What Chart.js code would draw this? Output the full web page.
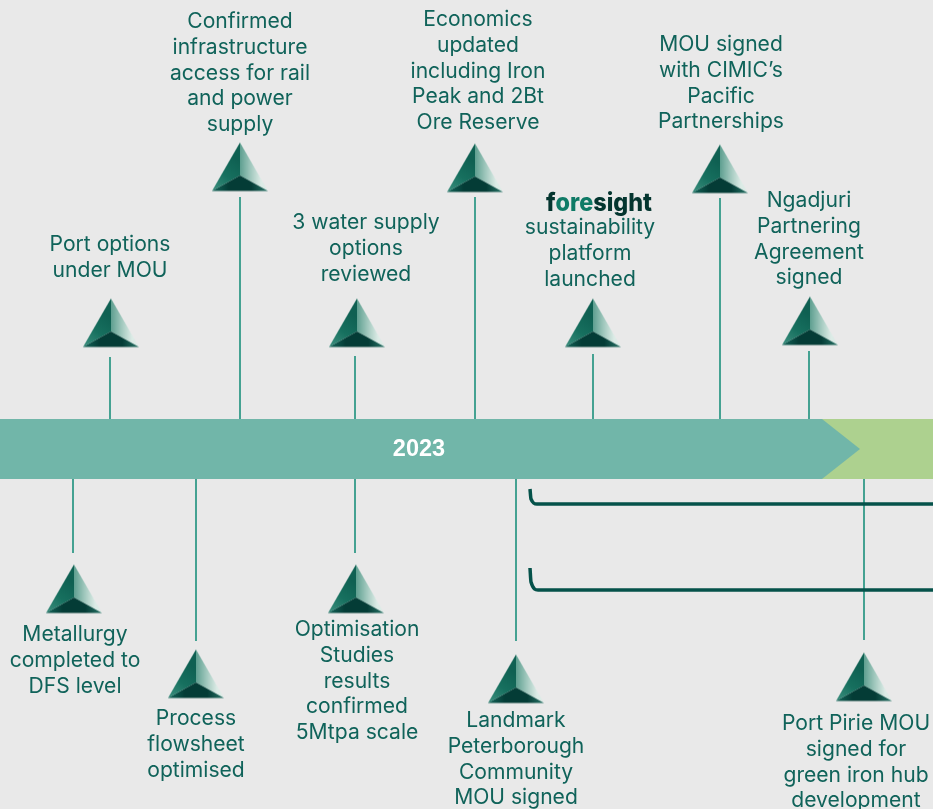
<!DOCTYPE html>
<html><head><meta charset="utf-8">
<style>html,body{margin:0;padding:0;background:#e9e9e9;overflow:hidden}#c{display:block}</style>
<script src="https://cdn.jsdelivr.net/npm/chart.js@4"></script>
</head><body><canvas id="c" width="933" height="809"></canvas>
<script>
// Milestones above the timeline
const topLabels = [
  ["Port options","under MOU"],
  ["Confirmed","infrastructure","access for rail","and power","supply"],
  ["3 water supply","options","reviewed"],
  ["Economics","updated","including Iron","Peak and 2Bt","Ore Reserve"],
  ["sustainability","platform","launched"],
  ["MOU signed","with CIMIC\u2019s","Pacific","Partnerships"],
  ["Ngadjuri","Partnering","Agreement","signed"]
];
const topPos   = [110,240,355,475,593,720,809];
const topStemEnd = [357,197,356,197,354,198,351];
const topMarkX = [111,240,357,475,593,720,810];
const topMarkY = [323,167,323,168,323,169,321];
const topTextX = [110,240,366,478,590,721,809];
const topTextY = [245,22,223,20,228,45,201];
// Milestones below the timeline
const bottomLabels = [
  ["Metallurgy","completed to","DFS level"],
  ["Process","flowsheet","optimised"],
  ["Optimisation","Studies","results","confirmed","5Mtpa scale"],
  ["Landmark","Peterborough","Community","MOU signed"],
  ["Port Pirie MOU","signed for","green iron hub","development"]
];
const bottomPos = [73,196,355,516,864];
const bottomStemEnd = [553,641,553,641,640];
const bottomMarkX = [74,196,356,516,864];
const bottomMarkY = [589,674,589,679,677];
const bottomTextX = [75,196,357,516,856];
const bottomTextY = [635,719,630,721,724];
// Timeline band
const bandName = "2023";
const bandTop = 419, bandBottom = 479, bandMid = 449;
const arrowStart = 822, arrowTip = 860, bandEnd = 933;
// Brackets below the band
const bracket1X = [530,531,537,933], bracket1Y = [489,499,504,504];
const bracket2X = [530,531,538,933], bracket2Y = [568,582,590,590];
const logoParts = ["f","ore","sight"];

const TEXT="#10635a", STEM="#0f8a76", DARK="#05524a";
const xy=(xs,ys)=>xs.map((x,i)=>({x,y:ys[i]}));

function markerImage(){
  const W=58,H=51,c=document.createElement('canvas');c.width=W;c.height=H;
  const g=c.getContext('2d');
  const A=[W/2,1],L=[1,H-1.5],R=[W-1,H-1.5],M=[W/2,34];
  const tri=(a,b,d,f)=>{g.beginPath();g.moveTo(...a);g.lineTo(...b);g.lineTo(...d);g.closePath();g.fillStyle=f;g.fill();};
  let f=g.createLinearGradient(4,H,W/2,20);f.addColorStop(0,"#3c8f7e");f.addColorStop(.5,"#17705f");f.addColorStop(1,"#0f6052");
  tri(A,L,M,f);
  f=g.createLinearGradient(W/2,0,W-8,0);f.addColorStop(0,"#5e9f90");f.addColorStop(.55,"#a6cbc1");f.addColorStop(1,"#dcebe6");
  tri(A,R,M,f);
  f=g.createLinearGradient(1,H,W-1,H);f.addColorStop(0,"#15665a");f.addColorStop(.3,"#043c36");f.addColorStop(.7,"#043c36");f.addColorStop(1,"#2a7568");
  tri(L,R,M,f);
  return c;
}
const marker=markerImage();

const stems=[];
topPos.forEach((x,i)=>stems.push({type:'line',data:[{x,y:topStemEnd[i]},{x,y:bandTop}],borderColor:STEM,borderWidth:1.5,pointRadius:0,fill:false}));
bottomPos.forEach((x,i)=>stems.push({type:'line',data:[{x,y:bandBottom},{x,y:bottomStemEnd[i]}],borderColor:STEM,borderWidth:1.5,pointRadius:0,fill:false}));

const edge=(xs,ys,extra)=>Object.assign({type:'line',data:xy(xs,ys),borderWidth:0,pointRadius:0,tension:0},extra);

const datasets=[
  {type:'scatter',data:[...xy(topMarkX,topMarkY),...xy(bottomMarkX,bottomMarkY)],pointStyle:marker,pointRadius:28,showLine:false,clip:false,order:0},
  edge([0,arrowStart,arrowTip],[bandTop,bandTop,bandMid],{fill:'+1',backgroundColor:"#71b6a9",order:2}),
  edge([0,arrowStart,arrowTip],[bandBottom,bandBottom,bandMid],{fill:false,order:2}),
  edge([arrowStart,bandEnd],[bandTop,bandTop],{fill:'+1',backgroundColor:"#add18f",order:3}),
  edge([arrowStart,bandEnd],[bandBottom,bandBottom],{fill:false,order:3}),
  {type:'line',data:xy(bracket1X,bracket1Y),borderColor:DARK,borderWidth:3.5,pointRadius:0,cubicInterpolationMode:'monotone',fill:false,order:1},
  {type:'line',data:xy(bracket2X,bracket2Y),borderColor:DARK,borderWidth:3.5,pointRadius:0,cubicInterpolationMode:'monotone',fill:false,order:1},
  ...stems.map(s=>Object.assign(s,{order:4}))
];

const textPlugin={id:'text',afterDatasetsDraw(ch){
  const g=ch.ctx,X=ch.scales.x,Y=ch.scales.y;
  g.save();g.textAlign='center';g.textBaseline='middle';
  g.fillStyle=TEXT;g.font='400 21.1px Inter, sans-serif';
  const block=(lines,x,y)=>lines.forEach((t,k)=>g.fillText(t,X.getPixelForValue(x),Y.getPixelForValue(y+k*25.6)));
  topLabels.forEach((l,i)=>block(l,topTextX[i],topTextY[i]));
  bottomLabels.forEach((l,i)=>block(l,bottomTextX[i],bottomTextY[i]));
  g.fillStyle="#ffffff";g.font='700 23.5px "Liberation Sans", Arial, sans-serif';
  g.fillText(bandName,X.getPixelForValue(419),Y.getPixelForValue(450));
  // foresight wordmark
  g.font='800 25px Inter, sans-serif';g.textAlign='left';g.textBaseline='alphabetic';
  const w=logoParts.map(p=>g.measureText(p).width),tot=w.reduce((a,b)=>a+b,0);
  const s=106/tot;let px=X.getPixelForValue(546);
  g.save();g.translate(px,Y.getPixelForValue(211));g.scale(s,1);let q=0;
  logoParts.forEach((p,i)=>{g.fillStyle=i==1?"#0f7a66":"#04352f";g.fillText(p,q,0);q+=w[i];});
  g.restore();g.restore();
}};

new Chart(document.getElementById('c'),{
  data:{datasets},
  plugins:[textPlugin],
  options:{responsive:false,animation:false,devicePixelRatio:1,
    layout:{padding:0,autoPadding:false},
    plugins:{legend:{display:false},tooltip:{enabled:false},title:{display:false}},
    scales:{
      x:{type:'linear',min:0,max:933,display:false},
      y:{type:'linear',min:0,max:809,reverse:true,display:false}
    }
  }
});
</script>
</body></html>
